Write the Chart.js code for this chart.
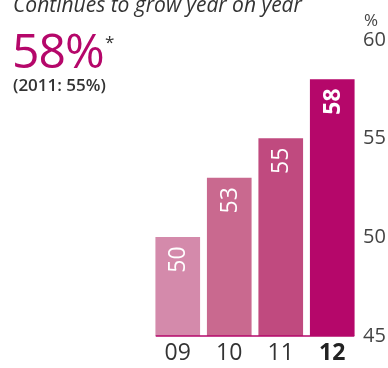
<!DOCTYPE html>
<html>
<head>
<meta charset="utf-8">
<script src="https://cdn.jsdelivr.net/npm/chart.js@4"></script>
<style>
  body { margin: 0; background: #fff; font-family: "Open Sans", sans-serif; }
  #wrap { position: relative; width: 388px; height: 368px; overflow: hidden; }
  #chart { position: absolute; left: 0; top: 0; }
  .txt { position: absolute; white-space: nowrap; color: #333; }
  #title { left: 13px; top: -10px; font-size: 21px; font-style: italic; }
  #big { left: 12px; top: 17px; font-size: 48px; color: #b5076a; letter-spacing: -1px; }
  #star { left: 105px; top: 30px; font-size: 17px; }
  #prev { left: 13px; top: 73px; font-size: 17px; font-weight: 600; }
  #unit { left: 364px; top: 8px; font-size: 17px; color: #444; }
</style>
</head>
<body>
<div id="wrap">
  <canvas id="chart" width="388" height="368"></canvas>
  <div class="txt" id="title">Continues to grow year on year</div>
  <div class="txt" id="big">58%</div>
  <div class="txt" id="star">*</div>
  <div class="txt" id="prev">(2011: 55%)</div>
  <div class="txt" id="unit">%</div>
</div>
<script>
const years = ["09", "10", "11", "12"];
const shares = [50, 53, 55, 58];
const barColors = ["#d48aab", "#c9698f", "#c04a7f", "#b5076a"];
const yTicks = [45, 50, 55, 60];

document.addEventListener("DOMContentLoaded", function () {
  const ctx = document.getElementById("chart");

  // white rotated values inside the top of each bar
  const barLabels = {
    id: "barLabels",
    afterDatasetsDraw(chart) {
      const c = chart.ctx;
      const meta = chart.getDatasetMeta(0);
      meta.data.forEach(function (bar, i) {
        c.save();
        c.translate(bar.x, bar.y + 9);
        c.rotate(-Math.PI / 2);
        c.fillStyle = "#ffffff";
        c.font = (i === 3 ? "bold " : "") + "23px 'Open Sans'";
        c.textAlign = "right";
        c.textBaseline = "middle";
        c.fillText(String(shares[i]), 0, 1);
        c.restore();
      });
    }
  };

  // thin magenta base line under the bars
  const baseLine = {
    id: "baseLine",
    afterDatasetsDraw(chart) {
      const meta = chart.getDatasetMeta(0);
      const first = meta.data[0], last = meta.data[meta.data.length - 1];
      const y = chart.scales.y.getPixelForValue(45);
      const c = chart.ctx;
      c.save();
      c.strokeStyle = "#b5076a";
      c.lineWidth = 1.5;
      c.beginPath();
      c.moveTo(first.x - first.width / 2, y);
      c.lineTo(last.x + last.width / 2, y);
      c.stroke();
      c.restore();
    }
  };

  new Chart(ctx, {
    type: "bar",
    data: {
      labels: years,
      datasets: [{
        data: shares,
        backgroundColor: barColors,
        barThickness: 44
      }]
    },
    options: {
      responsive: false,
      devicePixelRatio: 1,
      animation: false,
      layout: { padding: { left: 152, top: 40, right: 0, bottom: 0 } },
      plugins: { legend: { display: false }, tooltip: { enabled: false } },
      scales: {
        x: {
          grid: { display: false, drawTicks: false },
          border: { display: false },
          afterFit: function (s) { s.height = 32; },
          ticks: {
            padding: 4,
            color: function (c) { return c.index === 3 ? "#222" : "#333"; },
            font: function (c) {
              return { family: "Open Sans", size: 23, weight: c.index === 3 ? "bold" : "normal" };
            }
          }
        },
        y: {
          position: "right",
          min: 45,
          max: 60,
          afterFit: function (s) { s.width = 30; },
          afterBuildTicks: function (s) { s.ticks = yTicks.map(function (v) { return { value: v }; }); },
          grid: { display: false, drawTicks: false },
          border: { display: false },
          ticks: {
            padding: 5,
            color: "#444",
            font: { family: "Open Sans", size: 20 }
          }
        }
      }
    },
    plugins: [barLabels, baseLine]
  });
});
</script>
</body>
</html>
